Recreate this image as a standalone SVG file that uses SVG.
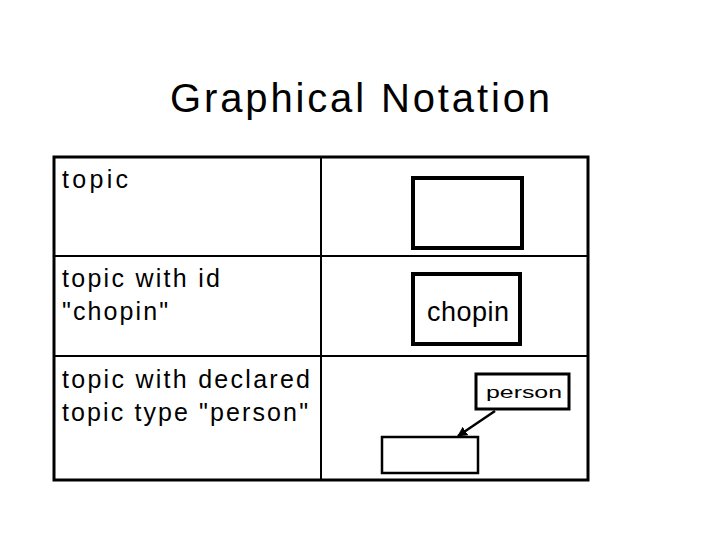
<svg xmlns="http://www.w3.org/2000/svg" width="720" height="540" viewBox="0 0 720 540">
<style>
text{font-family:"Liberation Sans",Arial,sans-serif;fill:#000}
.lbl{font-size:25px}
.grid{stroke:#000;fill:none}
</style>
<defs><marker id="ah" viewBox="0 0 10 10" refX="9" refY="5" markerWidth="4" markerHeight="4" orient="auto"><path d="M0,0L10,5L0,10z"/></marker></defs>
<rect width="720" height="540" fill="#fff"/>
<text x="170" y="112" font-size="40" textLength="380" lengthAdjust="spacing">Graphical Notation</text>
<g id="table" class="grid">
<rect x="54" y="157" width="534" height="323" stroke-width="3"/>
<line x1="321" y1="157" x2="321" y2="480" stroke-width="2"/>
<line x1="54" y1="256" x2="588" y2="256" stroke-width="2"/>
<line x1="54" y1="356" x2="588" y2="356" stroke-width="2"/>
</g>
<g id="labels">
<text class="lbl" x="62" y="188" textLength="66">topic</text>
<text class="lbl" x="62" y="287" textLength="158">topic with id</text>
<text class="lbl" x="62" y="320" textLength="106">"chopin"</text>
<text class="lbl" x="62" y="388" textLength="248">topic with declared</text>
<text class="lbl" x="62" y="421" textLength="246">topic type "person"</text>
</g>
<g id="topic"><rect x="413" y="178" width="109" height="70" fill="none" stroke="#000" stroke-width="4"/></g>
<g id="chopin"><rect x="413" y="274" width="107" height="70" fill="none" stroke="#000" stroke-width="4"/>
<text x="427" y="321" font-size="27" textLength="82">chopin</text></g>
<g id="person"><rect x="476" y="374" width="93" height="35" fill="none" stroke="#000" stroke-width="3"/>
<text x="486" y="398" font-size="16" textLength="76" lengthAdjust="spacingAndGlyphs">person</text></g>
<g id="instance"><rect x="382" y="437" width="96" height="36" fill="none" stroke="#000" stroke-width="2.5"/></g>
<g id="connectors"><line x1="495" y1="411" x2="458" y2="436" stroke="#000" stroke-width="2.5" marker-end="url(#ah)"/></g>
</svg>
